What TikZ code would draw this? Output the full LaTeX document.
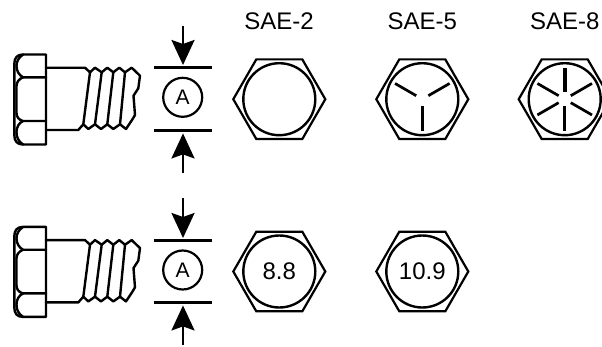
\documentclass[tikz,border=0pt]{standalone}
\usepackage{fontspec}
\setmainfont{Liberation Sans}
\usetikzlibrary{arrows.meta,shapes.geometric}
\tikzset{
  ln/.style={line width=2.3pt,line join=round},
  thin ln/.style={line width=1.9pt,line join=round},
  hexagon/.style={draw,regular polygon,regular polygon sides=6,minimum size=92pt,inner sep=0pt,outer sep=0pt,line width=2.2pt,line join=miter},
  face/.style={draw,circle,minimum size=72pt,inner sep=0pt,outer sep=0pt,line width=2.4pt,font=\fontsize{24}{24}\selectfont},
  dia/.style={draw,circle,minimum size=39pt,inner sep=0pt,line width=2.2pt,font=\fontsize{21}{21}\selectfont},
  bar/.style={fill=black,minimum width=58pt,minimum height=3.4pt,inner sep=0pt,outer sep=0pt},
  dimarrow/.style={line width=2.3pt,-{Stealth[length=25pt,width=23pt,inset=4pt]},shorten >=1pt},
  grade/.style={font=\fontsize{24}{24}\selectfont,inner sep=0pt},
  spoke/.style={line width=2.7pt},
  boltline/.style={line width=2.4pt,line join=round,line cap=round}
}
\newcommand{\boltdrawing}{%
  \draw[boltline] (46,54.5) -- (23,54.5) .. controls (17,54.5) and (14.3,58) .. (14.3,64) -- (14.3,135)
     .. controls (14.3,141) and (17,144.5) .. (23,144.5) -- (46,144.5) -- cycle;
  \draw[boltline] (23,54.5) .. controls (18,58) and (16.5,62) .. (16.5,66) .. controls (16.5,71) and (19,75) .. (23,77.3) -- (46,77.3);
  \draw[boltline] (23,77.3) .. controls (19,79) and (16.5,82) .. (16.5,86) -- (16.5,113) .. controls (16.5,117) and (19,120) .. (23,121) -- (46,121);
  \draw[boltline] (23,121) .. controls (19,123) and (16.5,127) .. (16.5,132) .. controls (16.5,137) and (18,141) .. (23,144.5);
  \draw[boltline] (46,67.7) -- (85,67.7) -- (90,72.3) -- (95,67.7) -- (101.7,72.3) -- (107.3,67.7) -- (113.3,72.3)
    -- (119.3,67.7) -- (125,72.3) -- (131.7,67.7) -- (140,75.7) -- (138.3,88.3) -- (133.5,95.7) -- (135,115)
    -- (132,120) -- (126,129) -- (120,124.3) -- (113.3,129) -- (107.3,124.3) -- (101,129) -- (95,124.3)
    -- (88.3,129) -- (83.3,124.3) -- (78.3,130) -- (46,130);
  \draw[boltline] (90,72.3) -- (83.3,124.3) (101.7,72.3) -- (95,124.3) (113.3,72.3) -- (107.3,124.3) (125,72.3) -- (120,124.3);
}
\begin{document}
\begin{tikzpicture}[x=1pt,y=-1pt]
\useasboundingbox (0,0) rectangle (602,346);
\clip (0,0) rectangle (602,346);
\fill[white] (0,0) rectangle (602,346);

% top bolt
\boltdrawing
\begin{scope}[shift={(0,172.4)}]
\boltdrawing
\end{scope}

% dimension marks, top
\node[bar] (b1) at (183,67.7) {};
\node[bar] (b2) at (183,130.7) {};
\node[dia] (a1) at (182.7,97.3) {A};
\coordinate (s1) at (183,26);
\coordinate (s2) at (183,172.7);
\draw[dimarrow] (s1) -- (b1.north);
\draw[dimarrow] (s2) -- (b2.south);

% dimension marks, bottom
\node[bar] (b3) at (183,240.7) {};
\node[bar] (b4) at (183,302.7) {};
\node[dia] (a2) at (182.7,270) {A};
\coordinate (s3) at (183,198);
\coordinate (s4) at (183,345);
\draw[dimarrow] (s3) -- (b3.north);
\draw[dimarrow] (s4) -- (b4.south);

% grade labels
\node[grade] (l2) at (279,21) {SAE-2};
\node[grade] (l5) at (422.3,21) {SAE-5};
\node[grade] (l8) at (564.7,21) {SAE-8};

% heads, top row
\node[hexagon] (h2) at (279.3,99.2) {};
\node[face] (f2) at (279.3,99.2) {};
\node[hexagon] (h5) at (422.3,99.2) {};
\node[face] (f5) at (422.3,99.2) {};
\node[hexagon] (h8) at (564.7,99.2) {};
\node[face] (f8) at (564.7,99.2) {};

% SAE-5 spokes
\foreach \a in {90,210,330}
  \draw[spoke] ([shift={(\a:7)}]f5.center) -- ([shift={(\a:31.5)}]f5.center);
% SAE-8 spokes
\foreach \a in {30,90,150,210,330}
  \draw[spoke] ([shift={(\a:7)}]f8.center) -- ([shift={(\a:31.5)}]f8.center);
\draw[line width=4.2pt] ([shift={(270:7.5)}]f8.center) -- ([shift={(270:31.5)}]f8.center);

% heads, bottom row
\node[hexagon] (h88) at (279.3,271.5) {};
\node[face] (f88) at (279.3,271.5) {8.8};
\node[hexagon] (h109) at (422.3,271.5) {};
\node[face] (f109) at (422.3,271.5) {10.9};
\end{tikzpicture}
\end{document}
